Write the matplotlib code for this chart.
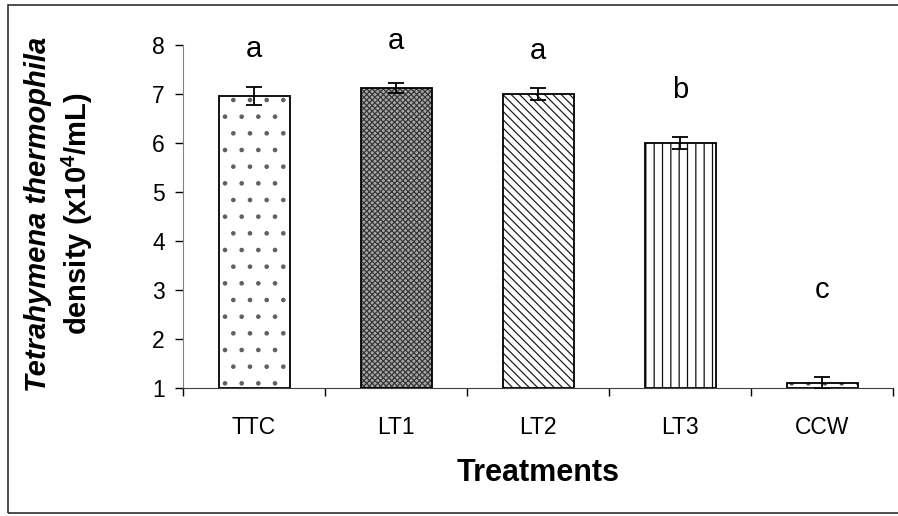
import matplotlib
matplotlib.use("Agg")
import matplotlib.pyplot as plt
from matplotlib.patches import Rectangle

# Cell density per treatment (x10^4 / mL) with standard errors
treatments = ["TTC", "LT1", "LT2", "LT3", "CCW"]
density = [6.96, 7.12, 7.00, 6.00, 1.10]
std_err = [0.18, 0.10, 0.13, 0.12, 0.12]

# Significance groups and the height each letter sits at
groups = ["a", "a", "a", "b", "c"]
group_y = [7.76, 7.92, 7.72, 6.92, 2.84]

hatches = [".", "xxxxxx", "\\\\\\\\", "||", "."]
faces = ["white", "#a8a8a8", "white", "white", "white"]
hatch_colors = ["#606060", "#383838", "#202020", "#101010", "#505050"]

plt.rcParams["font.family"] = ["Liberation Sans", "DejaVu Sans"]
plt.rcParams["mathtext.fontset"] = "custom"
plt.rcParams["mathtext.rm"] = "Liberation Sans"
plt.rcParams["mathtext.bf"] = "Liberation Sans:bold"
plt.rcParams["hatch.linewidth"] = 0.9

fig = plt.figure(figsize=(8.98, 5.16), dpi=100)
ax = fig.add_axes([183 / 898, 1 - 388 / 516, 710 / 898, 343 / 516])

x = list(range(len(treatments)))
heights = [d - 1 for d in density]

# hatch fill first, then a plain black outline on top
fill = ax.bar(x, heights, bottom=1, width=0.5, color=faces,
              edgecolor=hatch_colors, linewidth=0, zorder=2)
for bar, h in zip(fill, hatches):
    bar.set_hatch(h)
ax.bar(x, heights, bottom=1, width=0.5, fill=False, edgecolor="black",
       linewidth=1.3, zorder=2.5)

ax.errorbar(x, density, yerr=std_err, fmt="none", ecolor="black",
            elinewidth=1.3, capsize=6, capthick=1.3, zorder=3)

for xi, g, gy in zip(x, groups, group_y):
    ax.text(xi, gy, g, ha="center", va="baseline", fontsize=21)

ax.set_xlim(-0.5, 4.5)
ax.set_ylim(1, 8)
ax.set_yticks(range(1, 9))
ax.set_xticks(x)
ax.set_xticklabels(treatments)
ax.set_xticks([i - 0.5 for i in range(len(treatments) + 1)], minor=True)
ax.tick_params(axis="x", which="major", length=0, pad=20, labelsize=16.5)
ax.tick_params(axis="x", which="minor", length=6, width=1, direction="out")
ax.tick_params(axis="y", length=6, width=1, direction="out", pad=7,
               labelsize=16.5)

for side in ["top", "right"]:
    ax.spines[side].set_visible(False)
ax.spines["left"].set_color("#808080")
ax.spines["bottom"].set_color("#404040")

ax.set_xlabel("Treatments", fontsize=22, fontweight="bold", labelpad=14)

fig.text(38 / 898, 1 - 214 / 516, "Tetrahymena thermophila", rotation=90,
         ha="center", va="center", fontsize=21, fontweight="bold",
         fontstyle="italic")
fig.text(77 / 898, 1 - 214 / 516, r"density (x10$^\mathbf{4}$/mL)",
         rotation=90, ha="center", va="center", fontsize=21,
         fontweight="bold")

# thin frame around the whole chart area
fig.patches.append(Rectangle((8 / 898, 3 / 516), 1.2, 508 / 516,
                             transform=fig.transFigure, fill=False,
                             edgecolor="#303030", linewidth=1.2))

fig.savefig("out.png", dpi=100)
